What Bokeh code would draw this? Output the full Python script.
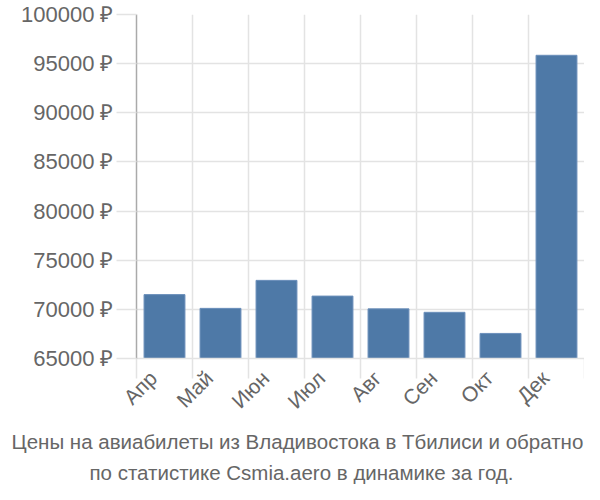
import math
from bokeh.plotting import figure
from bokeh.models import (Range1d, Title, FixedTicker, CustomJSTickFormatter,
                          LinearAxis)
from bokeh.embed import file_html
from bokeh.resources import INLINE

months = ["Апр", "Май", "Июн", "Июл", "Авг", "Сен", "Окт", "Дек"]
prices = [71500, 70100, 72950, 71350, 70050, 69700, 67550, 95850]
y_ticks = [65000, 70000, 75000, 80000, 85000, 90000, 95000, 100000]
title_lines = ["Цены на авиабилеты из Владивостока в Тбилиси и обратно",
               "по статистике Csmia.aero в динамике за год."]

TEXT = "#666666"
GRID = "#e3e3e3"
FONT = "Liberation Sans"
W, H = 584, 484
LEFT, TOP = 136, 14

p = figure(x_range=months, y_range=Range1d(65000, 100000), width=W, height=H,
           output_backend="svg", toolbar_location=None, x_axis_location=None,
           min_border_left=LEFT, min_border_right=0, min_border_top=TOP)

p.vbar(x=months, top=prices, bottom=65000, width=0.73,
       fill_color="#4e79a7", line_color="#6b8fbb", line_width=1)

p.outline_line_color = None

# boundaries between categories (grid lines + ticks extending below)
boundaries = list(range(len(months) + 1))
bticker = FixedTicker(ticks=boundaries)
baxis = LinearAxis(ticker=bticker, axis_line_color=GRID, axis_line_width=1.5,
                   major_tick_line_color=GRID, major_tick_line_width=1.5,
                   major_tick_out=20, major_tick_in=0, minor_tick_line_color=None,
                   formatter=CustomJSTickFormatter(code="return '';"),
                   major_label_standoff=0)
p.add_layout(baxis, "below")

# month labels (anchored slightly left of each band centre, as in the reference)
label_ticks = [i + 0.3 for i in range(len(months))]
caxis = LinearAxis(ticker=FixedTicker(ticks=label_ticks),
                   formatter=CustomJSTickFormatter(args=dict(months=months),
                                                   code="return months[Math.round(tick - 0.3)];"),
                   axis_line_color=None, major_tick_line_color=None,
                   minor_tick_line_color=None,
                   major_label_orientation=math.pi / 4,
                   major_label_text_font=FONT,
                   major_label_text_font_size="21px",
                   major_label_text_color=TEXT,
                   major_label_standoff=-10)
p.add_layout(caxis, "below")

p.xgrid.grid_line_color = GRID
p.xgrid.grid_line_width = 1.5
p.xgrid.ticker = bticker
p.ygrid.grid_line_color = GRID
p.ygrid.grid_line_width = 1.5

p.yaxis.ticker = FixedTicker(ticks=y_ticks)
p.yaxis.formatter = CustomJSTickFormatter(code="return tick + ' ₽';")
p.yaxis.axis_line_color = "#aaaaaa"
p.yaxis.axis_line_width = 1.5
p.yaxis.major_tick_line_color = GRID
p.yaxis.major_tick_line_width = 1.5
p.yaxis.major_tick_out = 20
p.yaxis.major_tick_in = 0
p.yaxis.minor_tick_line_color = None
p.yaxis.major_label_standoff = 3
p.yaxis.major_label_text_font = FONT
p.yaxis.major_label_text_font_size = "22px"
p.yaxis.major_label_text_color = TEXT

# caption under the chart, left-aligned with an offset so it is centred on the page
for line, off, so in zip(title_lines, [-125, -47], [9, 2]):
    p.add_layout(Title(text=line, align="left", offset=off, standoff=so,
                       text_font=FONT, text_font_size="20.5px",
                       text_font_style="normal", text_color=TEXT), "below")

open("out.html", "w").write(file_html(p, INLINE))
